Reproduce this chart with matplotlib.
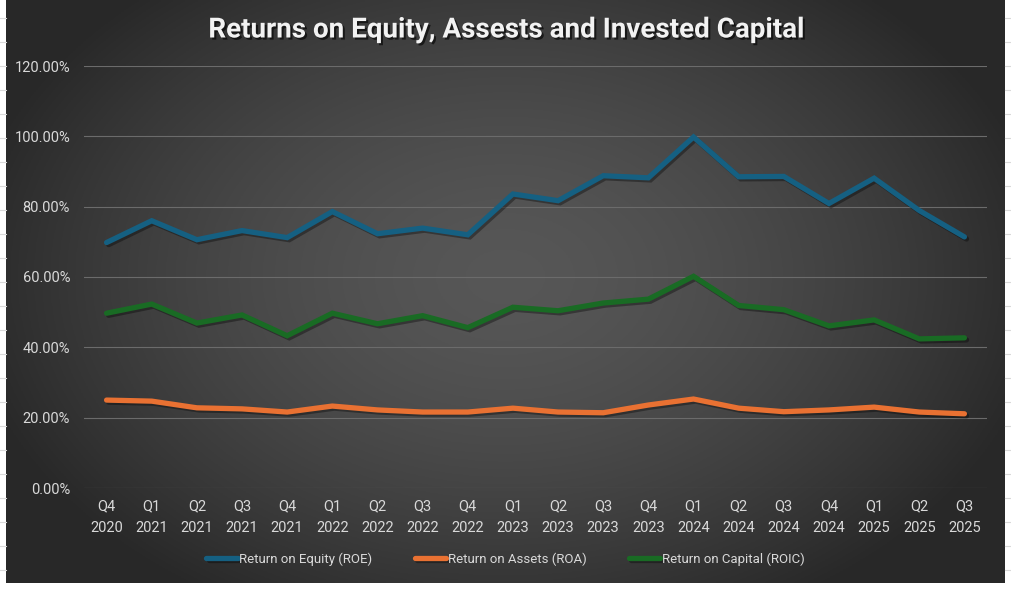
import numpy as np
import matplotlib.pyplot as plt
import matplotlib.patheffects as pe
from matplotlib.ticker import PercentFormatter
from matplotlib import font_manager

quarters = ["Q4", "Q1", "Q2", "Q3", "Q4", "Q1", "Q2", "Q3", "Q4", "Q1",
            "Q2", "Q3", "Q4", "Q1", "Q2", "Q3", "Q4", "Q1", "Q2", "Q3"]
years = ["2020", "2021", "2021", "2021", "2021", "2022", "2022", "2022", "2022", "2023",
         "2023", "2023", "2023", "2024", "2024", "2024", "2024", "2025", "2025", "2025"]

roe = [69.8, 76.0, 70.6, 73.2, 71.2, 78.6, 72.3, 73.9, 72.0, 83.6,
       81.7, 88.8, 88.2, 99.8, 88.5, 88.6, 80.9, 88.1, 78.9, 71.4]
roa = [25.0, 24.7, 22.8, 22.5, 21.6, 23.3, 22.2, 21.6, 21.6, 22.7,
       21.6, 21.4, 23.6, 25.3, 22.7, 21.7, 22.2, 23.0, 21.6, 21.1]
roic = [49.7, 52.3, 46.9, 49.2, 43.3, 49.7, 46.7, 49.0, 45.6, 51.4,
        50.4, 52.6, 53.7, 60.2, 51.9, 50.7, 46.1, 47.8, 42.4, 42.7]

series = [
    ("Return on Equity (ROE)", roe, "#156082"),
    ("Return on Assets (ROA)", roa, "#E97132"),
    ("Return on Capital (ROIC)", roic, "#196B24"),
]

available = {f.name for f in font_manager.fontManager.ttflist}
narrow = "Liberation Sans Narrow" if "Liberation Sans Narrow" in available else "Roboto"
plt.rcParams["font.family"] = [narrow, "DejaVu Sans"]

W, H = 1011, 589
fig = plt.figure(figsize=(W / 100, H / 100), dpi=100)
fig.patch.set_facecolor("white")

# faint spreadsheet cell lines around the chart
for y in np.arange(18, H, 24):
    fig.add_artist(plt.Line2D([0, 6 / W], [1 - y / H] * 2, color="#d9d9d9", lw=0.8))
    fig.add_artist(plt.Line2D([1005 / W, 1], [1 - y / H] * 2, color="#d9d9d9", lw=0.8))

# chart area with radial gradient
bg = fig.add_axes([6 / W, 6 / H, 999 / W, 583 / H])
gx, gy = np.meshgrid(np.linspace(-1, 1, 400), np.linspace(-1, 1, 240))
r = np.sqrt(((gx - 0.0) / 1.05) ** 2 + ((gy + 0.05) / 1.25) ** 2)
shade = np.clip(0.34 - 0.17 * r ** 1.6, 0.16, 0.34)
bg.imshow(np.dstack([shade] * 3), aspect="auto", extent=[0, 1, 0, 1])
bg.set_axis_off()

ax = fig.add_axes([84 / W, 1 - 488 / H, 903 / W, 422 / H])
ax.patch.set_alpha(0)
x = np.arange(len(quarters))
for name, vals, color in series:
    ax.plot(x, vals, color=color, lw=3.8, label=name, solid_capstyle="round",
            solid_joinstyle="miter",
            path_effects=[pe.SimpleLineShadow(offset=(1.5, -1.5), shadow_color="black", alpha=0.35),
                          pe.Normal()])

ax.set_xlim(-0.5, len(quarters) - 0.5)
ax.set_ylim(0, 120)
ax.set_yticks(np.arange(0, 121, 20))
ax.yaxis.set_major_formatter(PercentFormatter(decimals=2))
ax.set_xticks(x)
ax.set_xticklabels([f"{q}\n{y}" for q, y in zip(quarters, years)])
ax.grid(axis="y", color="#6b6b6b", lw=0.8)
ax.set_axisbelow(True)
for s in ax.spines.values():
    s.set_visible(False)
ax.tick_params(length=0, colors="#d9d9d9", labelsize=10.5)
ax.tick_params(axis="y", pad=10)
ax.tick_params(axis="x", pad=8)
for lab in ax.get_xticklabels():
    lab.set_linespacing(1.7)

fig.text(0.5, 1 - 30 / H, "Returns on Equity, Assests and Invested Capital",
         ha="center", va="center", color="#f2f2f2", fontsize=20, fontweight="bold",
         path_effects=[pe.withSimplePatchShadow(offset=(1.5, -1.5), shadow_rgbFace="black", alpha=0.6)])

leg = fig.legend(loc="center", bbox_to_anchor=(0.5, 1 - 559 / H), ncol=3, frameon=False,
                 fontsize=9.5, handlelength=2.4, handletextpad=0.1, columnspacing=3.2,
                 labelcolor="#d9d9d9")

fig.savefig("out.png", dpi=100)
